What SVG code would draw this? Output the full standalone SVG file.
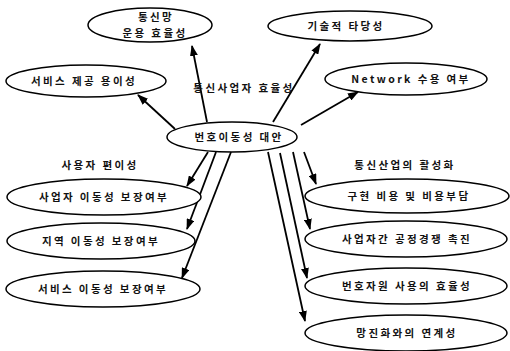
<svg xmlns="http://www.w3.org/2000/svg" width="510" height="351" viewBox="0 0 510 351">
<style>
.n ellipse{fill:#fff;stroke:#000;stroke-width:1.5}
text{font-family:"Noto Sans CJK KR","Liberation Sans",sans-serif;font-size:10.5px;font-weight:700;fill:#111;text-anchor:middle;letter-spacing:2.4px}
.c line{stroke:#000;stroke-width:1.8;marker-end:url(#ah)}
</style>
<defs>
<marker id="ah" markerUnits="userSpaceOnUse" markerWidth="11" markerHeight="8" refX="10" refY="4" orient="auto">
<path d="M0,0 L11,4 L0,8 z" fill="#000"/>
</marker>
</defs>
<rect width="510" height="351" fill="#fff"/>
<g id="connectors" class="c">
<line x1="207" y1="122" x2="192" y2="46"/>
<line x1="175" y1="129" x2="138" y2="95"/>
<line x1="273" y1="122" x2="320" y2="44"/>
<line x1="301" y1="125" x2="358" y2="92"/>
<line x1="208" y1="152" x2="187" y2="186"/>
<line x1="216" y1="152" x2="187" y2="229"/>
<line x1="231" y1="152" x2="182" y2="278"/>
<line x1="304" y1="152" x2="316" y2="184"/>
<line x1="293" y1="152" x2="310" y2="229"/>
<line x1="280" y1="153" x2="307" y2="278"/>
<line x1="268" y1="152" x2="305" y2="321"/>
</g>
<g id="n_tongsinmang" class="n"><ellipse cx="150" cy="25" rx="62" ry="17"/><text x="156" y="21">통신망</text><text x="155" y="37">운용 효율성</text></g>
<g id="n_service_provide" class="n"><ellipse cx="86" cy="81" rx="80" ry="16"/><text x="84" y="85">서비스 제공 용이성</text></g>
<g id="n_tech" class="n"><ellipse cx="350" cy="26" rx="82" ry="15"/><text x="346" y="30">기술적 타당성</text></g>
<g id="n_network" class="n"><ellipse cx="406" cy="79" rx="81" ry="16"/><text x="411" y="83">Network 수용 여부</text></g>
<g id="n_center" class="n"><ellipse cx="232" cy="137" rx="65" ry="15"/><text x="239" y="141">번호이동성 대안</text></g>
<g id="n_left1" class="n"><ellipse cx="104" cy="197" rx="97" ry="18"/><text x="104" y="201">사업자 이동성 보장여부</text></g>
<g id="n_left2" class="n"><ellipse cx="101" cy="241" rx="94" ry="18"/><text x="101" y="245">지역 이동성 보장여부</text></g>
<g id="n_left3" class="n"><ellipse cx="103" cy="289" rx="97" ry="18"/><text x="103" y="293">서비스 이동성 보장여부</text></g>
<g id="n_right1" class="n"><ellipse cx="407" cy="196" rx="102" ry="17"/><text x="409" y="200">구현 비용 및 비용부담</text></g>
<g id="n_right2" class="n"><ellipse cx="406" cy="239" rx="101" ry="18"/><text x="407" y="243">사업자간 공정경쟁 촉진</text></g>
<g id="n_right3" class="n"><ellipse cx="406" cy="286" rx="101" ry="18"/><text x="407" y="290">번호자원 사용의 효율성</text></g>
<g id="n_right4" class="n"><ellipse cx="406" cy="333" rx="101" ry="18"/><text x="407" y="337">망진화와의 연계성</text></g>
<g id="labels">
<text x="244" y="92">통신사업자 효율성</text>
<text x="100" y="169">사용자 편이성</text>
<text x="405" y="169">통신산업의 활성화</text>
</g>
</svg>
